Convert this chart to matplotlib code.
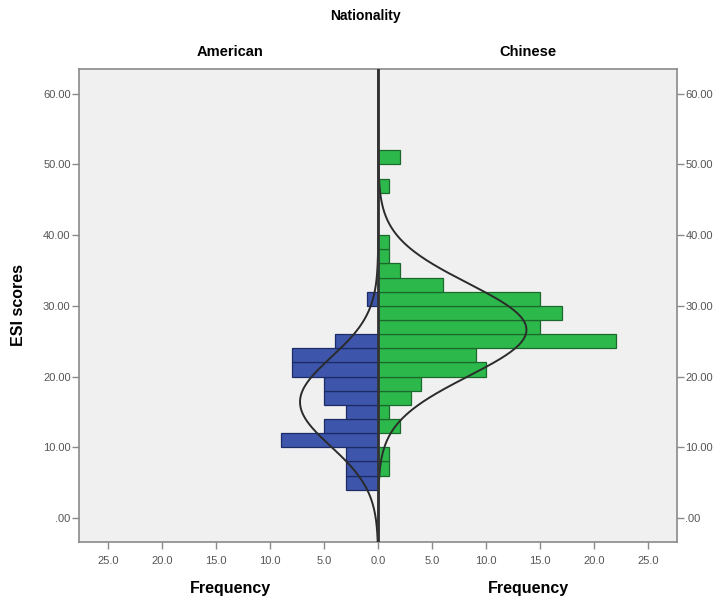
import numpy as np
import matplotlib
matplotlib.use("Agg")
import matplotlib.pyplot as plt
from matplotlib.ticker import FuncFormatter

plt.rcParams['font.family'] = ['Liberation Sans', 'DejaVu Sans']

# Histogram data (bin lower edges, bin width 2)
bin_width = 2
american_bins = [4, 6, 8, 10, 12, 14, 16, 18, 20, 22, 24, 30]
american_counts = [3, 3, 3, 9, 5, 3, 5, 5, 8, 8, 4, 1]
chinese_bins = [6, 8, 12, 14, 16, 18, 20, 22, 24, 26, 28, 30, 32, 34, 36, 38, 46, 50]
chinese_counts = [1, 1, 2, 1, 3, 4, 10, 9, 22, 15, 17, 15, 6, 2, 1, 1, 1, 2]

x_ticks = [-25, -20, -15, -10, -5, 0, 5, 10, 15, 20, 25]
y_ticks = [0, 10, 20, 30, 40, 50, 60]

blue = '#3D55AB'
blue_edge = '#1C2B66'
green = '#2DB84B'
green_edge = '#1B6A2C'
bg = '#F0F0F0'
frame = '#8A8A8A'
tick_col = '#555555'

fig = plt.figure(figsize=(7.21, 6.03), dpi=100)
L, R, T, B = 79, 677, 69, 542
ax = fig.add_axes([L/721, 1-B/603, (R-L)/721, (B-T)/603])
ax.set_facecolor(bg)

ab = np.array(american_bins, float)
ac = np.array(american_counts, float)
cb = np.array(chinese_bins, float)
cc = np.array(chinese_counts, float)

ax.barh(ab + bin_width/2, -ac, height=bin_width, color=blue,
        edgecolor=blue_edge, linewidth=0.9, zorder=2)
ax.barh(cb + bin_width/2, cc, height=bin_width, color=green,
        edgecolor=green_edge, linewidth=0.9, zorder=2)

ylo, yhi = -3.4, 63.5
yy = np.linspace(ylo, yhi, 600)

def normal_curve(bins, counts):
    mids = bins + bin_width/2
    n = counts.sum()
    mu = (mids*counts).sum()/n
    sd = np.sqrt(((mids-mu)**2*counts).sum()/(n-1))
    return n*bin_width/(sd*np.sqrt(2*np.pi))*np.exp(-0.5*((yy-mu)/sd)**2)

ax.plot(-normal_curve(ab, ac), yy, color='#2b2b2b', lw=1.4, zorder=3)
ax.plot(normal_curve(cb, cc), yy, color='#2b2b2b', lw=1.4, zorder=3)
ax.axvline(0, color='#333333', lw=2.0, zorder=4)

ax.set_xlim(-27.7, 27.65)
ax.set_ylim(ylo, yhi)

ax.set_xticks(x_ticks)
ax.xaxis.set_major_formatter(FuncFormatter(lambda v, p: f"{abs(v):.1f}"))
ax.set_yticks(y_ticks)
ax.yaxis.set_major_formatter(FuncFormatter(lambda v, p: ".00" if v == 0 else f"{v:.2f}"))
ax.tick_params(axis='both', direction='out', length=5, width=1, color=frame,
               labelsize=8, labelcolor=tick_col)
ax.tick_params(axis='y', left=True, right=True, labelleft=True, labelright=True, pad=1)
ax.tick_params(axis='x', pad=5)
for s in ax.spines.values():
    s.set_color(frame)
    s.set_linewidth(1.2)

ax.set_ylabel('ESI scores', fontsize=11.5, fontweight='bold', labelpad=12)

fig.text(365/721, 1-16/603, 'Nationality', ha='center', va='center',
         fontsize=10, fontweight='bold')
fig.text(230/721, 1-52/603, 'American', ha='center', va='center',
         fontsize=10.5, fontweight='bold')
fig.text(528/721, 1-52/603, 'Chinese', ha='center', va='center',
         fontsize=10.5, fontweight='bold')
fig.text(230/721, 1-588/603, 'Frequency', ha='center', va='center',
         fontsize=11.5, fontweight='bold')
fig.text(528/721, 1-588/603, 'Frequency', ha='center', va='center',
         fontsize=11.5, fontweight='bold')

fig.savefig('out.png', dpi=100, facecolor='white')
